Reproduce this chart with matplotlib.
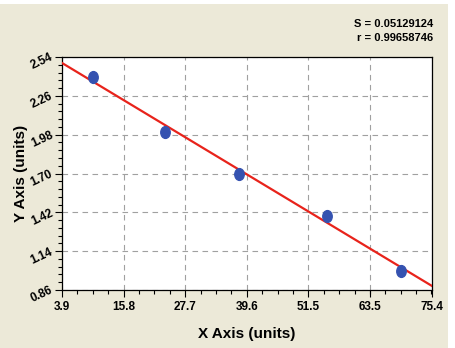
import numpy as np
import matplotlib
matplotlib.use('Agg')
import matplotlib.pyplot as plt
from matplotlib.path import Path
from matplotlib.ticker import AutoMinorLocator
from matplotlib.patches import Rectangle

### data
x_data = [9.8, 23.8, 38.2, 55.1, 69.4]
y_data = [2.398, 1.999, 1.694, 1.394, 0.997]
fit_x = [3.9, 75.4]
fit_y = [2.497, 0.889]
x_ticks = [3.9, 15.8, 27.7, 39.6, 51.5, 63.5, 75.4]
y_ticks = [0.86, 1.14, 1.42, 1.70, 1.98, 2.26, 2.54]
stats = ['S = 0.05129124', 'r = 0.99658746']

plt.rcParams['font.family'] = ['Liberation Sans', 'DejaVu Sans']

fig = plt.figure(figsize=(4.55, 3.48), dpi=100)
fig.patch.set_facecolor('#ECE9D8')
# white strips at the top and right edge
fig.patches.append(Rectangle((0, 1 - 4/348), 1, 4/348, transform=fig.transFigure,
                             facecolor='white', edgecolor='none', zorder=-1))
fig.patches.append(Rectangle((1 - 7/455, 0), 7/455, 1, transform=fig.transFigure,
                             facecolor='white', edgecolor='none', zorder=-1))

ax = fig.add_axes([62/455, 1 - 290/348, 370/455, 233/348])
ax.set_facecolor('white')

# oval marker, a bit taller than wide
circ = Path.unit_circle()
oval = Path(circ.vertices * [0.8, 1.0], circ.codes)

ax.plot(fit_x, fit_y, color='#E8231B', lw=1.6, zorder=3)
ax.plot(x_data, y_data, linestyle='none', marker=oval, markersize=8.5,
        color='#3552B0', zorder=4)

ax.set_xlim(3.9, 75.4)
ax.set_ylim(0.86, 2.54)
ax.set_xticks(x_ticks)
ax.set_xticklabels(['%.1f' % v for v in x_ticks], fontweight='bold', fontsize=8.5)
ax.set_yticks(y_ticks)
ax.set_yticklabels(['%.2f' % v for v in y_ticks], fontweight='bold', fontsize=8.5,
                   rotation=25, rotation_mode='anchor', ha='right', va='center')
ax.xaxis.set_minor_locator(AutoMinorLocator(4))
ax.yaxis.set_minor_locator(AutoMinorLocator(5))
ax.tick_params(which='major', direction='out', length=5, width=0.8, color='black', pad=2)
ax.tick_params(which='minor', direction='out', length=3, width=0.8, color='black')
ax.tick_params(axis='x', pad=3)

ax.grid(True, which='major', color='#A0A0A0', linestyle=(0, (5, 4)), linewidth=0.8)
for s in ax.spines.values():
    s.set_linewidth(0.9)
    s.set_color('black')

ax.set_xlabel('X Axis (units)', fontweight='bold', fontsize=11, labelpad=10)
ax.set_ylabel('Y Axis (units)', fontweight='bold', fontsize=11, labelpad=1)

fig.text(433/455, 1 - 24/348, stats[0], ha='right', va='center',
         fontweight='bold', fontsize=8)
fig.text(433/455, 1 - 38/348, stats[1], ha='right', va='center',
         fontweight='bold', fontsize=8)

fig.savefig('out.png', dpi=100, facecolor=fig.get_facecolor())
